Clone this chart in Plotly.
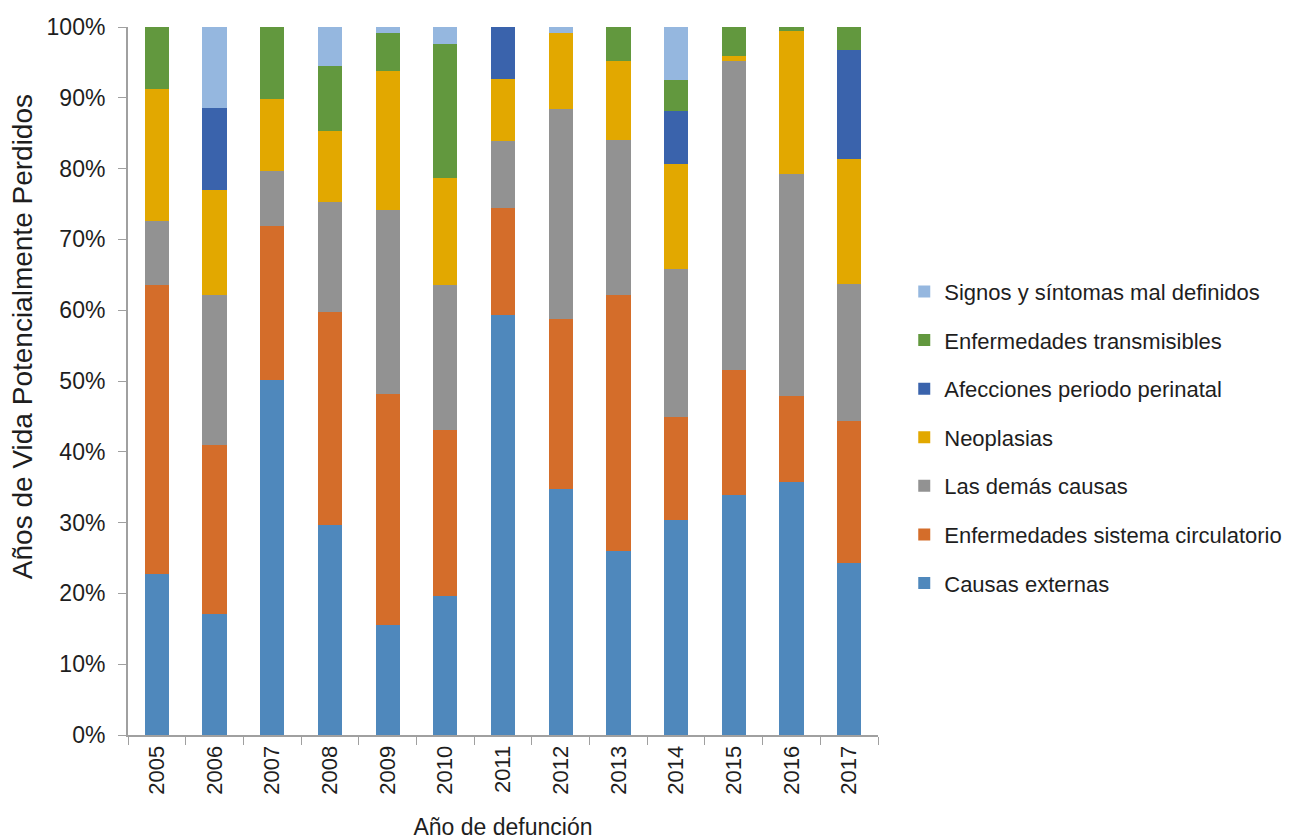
import plotly.graph_objects as go

years = ["2005", "2006", "2007", "2008", "2009", "2010", "2011", "2012", "2013", "2014", "2015", "2016", "2017"]

causas_externas = [22.7, 17.1, 50.1, 29.6, 15.5, 19.6, 59.3, 34.7, 26.0, 30.3, 33.9, 35.8, 24.3]
circulatorio = [40.8, 23.8, 21.8, 30.1, 32.7, 23.5, 15.2, 24.0, 36.2, 14.6, 17.6, 12.1, 20.1]
demas_causas = [9.1, 21.3, 7.8, 15.6, 25.9, 20.5, 9.4, 29.7, 21.8, 20.9, 43.7, 31.3, 19.3]
neoplasias = [18.6, 14.8, 10.1, 10.0, 19.7, 15.1, 8.8, 10.7, 11.2, 14.9, 0.7, 20.3, 17.7]
perinatal = [0, 11.5, 0, 0, 0, 0, 8.1, 0, 0, 7.4, 0, 0, 15.4]
transmisibles = [8.8, 0, 10.2, 9.2, 5.3, 18.9, 0, 0, 4.8, 4.4, 4.1, 0.5, 3.2]
signos = [0, 11.5, 0, 5.5, 0.9, 2.4, 0, 0.9, 0, 7.5, 0, 0, 0]

y_tick_vals = [0, 10, 20, 30, 40, 50, 60, 70, 80, 90, 100]
y_tick_text = ["0%", "10%", "20%", "30%", "40%", "50%", "60%", "70%", "80%", "90%", "100%"]

series = [
    ("Causas externas", causas_externas, "#4F88BC"),
    ("Enfermedades sistema circulatorio", circulatorio, "#D46D2A"),
    ("Las demás causas", demas_causas, "#929292"),
    ("Neoplasias", neoplasias, "#E2A800"),
    ("Afecciones periodo perinatal", perinatal, "#3A63AC"),
    ("Enfermedades transmisibles", transmisibles, "#62983E"),
    ("Signos y síntomas mal definidos", signos, "#95B7DF"),
]

FONT = "Liberation Sans, Arial, sans-serif"
TXT = "#1e1e1e"

fig = go.Figure()
n = len(series)
for i, (name, vals, color) in enumerate(series):
    fig.add_trace(go.Bar(
        x=years, y=vals, name=name, legendgroup=f"g{i}",
        legendrank=1000 - i,
        marker=dict(color=color, line=dict(width=0)),
        width=0.42,
    ))

fig.update_layout(
    barmode="stack",
    width=1291, height=832,
    margin=dict(l=120, r=421, t=19, b=105, autoexpand=False),
    paper_bgcolor="white", plot_bgcolor="white",
    font=dict(family=FONT, size=20, color=TXT),
    showlegend=True,
    legend=dict(
        x=1.035, xanchor="left", y=0.42, yanchor="middle",
        traceorder="grouped", tracegroupgap=17,
        font=dict(family=FONT, size=22, color=TXT),
        itemwidth=30,
    ),
    xaxis=dict(
        type="category", tickangle=-90, tickson="boundaries",
        ticks="outside", ticklen=8, tickcolor="#A0A0A0",
        showline=True, linecolor="#A0A0A0", linewidth=2,
        showgrid=False,
        tickfont=dict(family=FONT, size=22, color=TXT),
        title=dict(text="Año de defunción", font=dict(family=FONT, size=23, color=TXT), standoff=26),
    ),
    yaxis=dict(
        range=[0, 100], tickmode="array", tickvals=y_tick_vals, ticktext=y_tick_text,
        ticks="outside", ticklen=8, tickcolor="#A0A0A0", ticklabelstandoff=8,
        showline=True, linecolor="#A0A0A0", linewidth=2,
        showgrid=False, zeroline=False,
        tickfont=dict(family=FONT, size=23, color=TXT),
    ),
    annotations=[dict(
        text="Años de Vida Potencialmente Perdidos",
        xref="paper", yref="paper", x=-0.1413, y=0.562,
        xanchor="center", yanchor="middle", textangle=-90, showarrow=False,
        font=dict(family=FONT, size=28, color=TXT),
    )],
)

fig.write_html("out.html")
